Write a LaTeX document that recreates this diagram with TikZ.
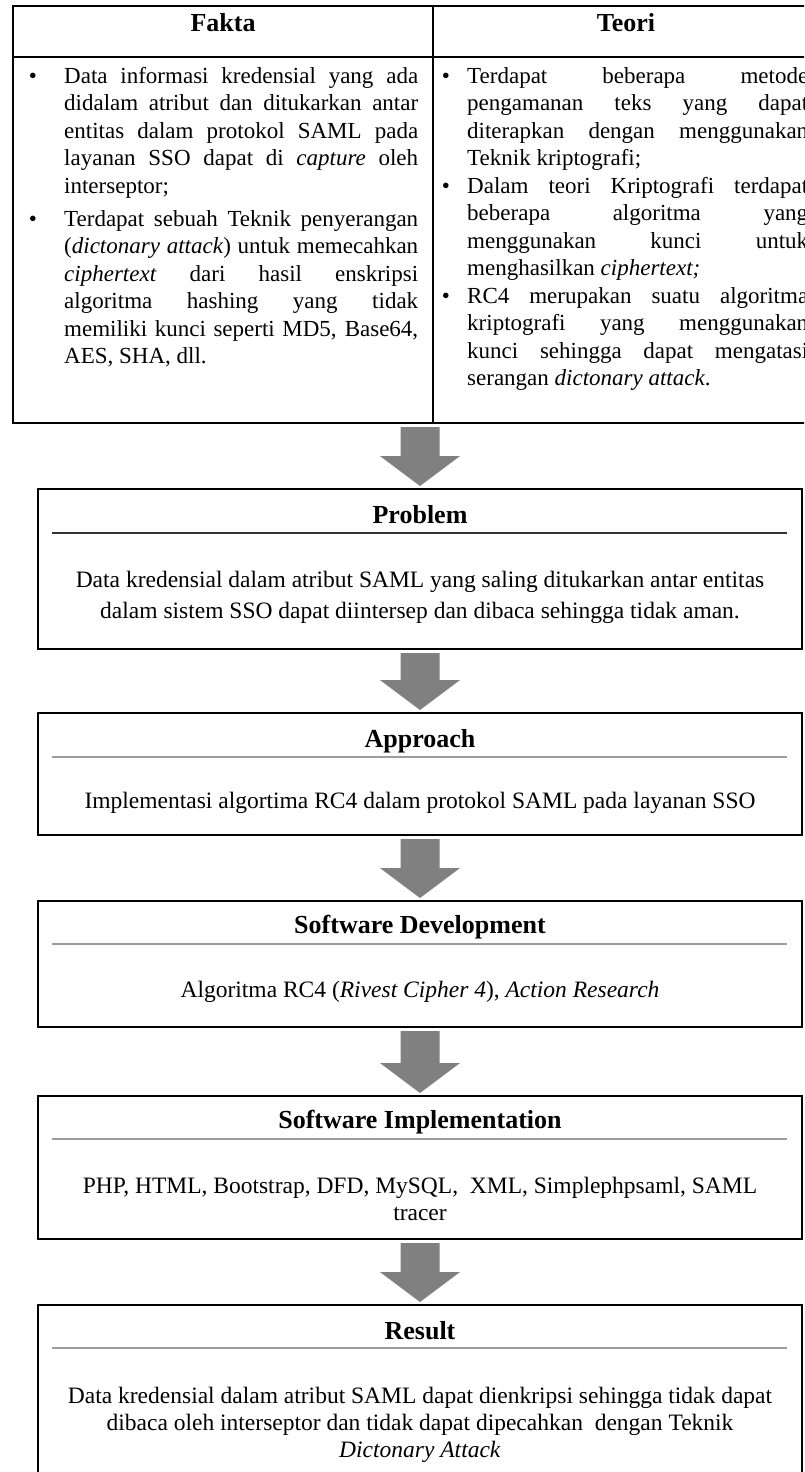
\documentclass[tikz,border=0pt]{standalone}
\usepackage{fontspec}
\setmainfont{Liberation Serif}
\usetikzlibrary{calc}
\definecolor{arrowgray}{HTML}{808080}
\definecolor{rulegray}{HTML}{9C9C9C}
\setlength{\parindent}{0pt}
\newcommand{\tabtext}{\fontsize{23}{27.5}\selectfont\tolerance=10000\hbadness=10000\hyphenpenalty=10000}
\newcommand{\boxtitle}{\fontsize{26}{30}\selectfont\bfseries}
\newcommand{\boxtext}{\fontsize{23.5}{31}\selectfont}
\newcommand{\boxtextb}{\fontsize{23.5}{27}\selectfont}
\newcommand{\blockarrow}[2]{%
  \path[fill=arrowgray] let \p1=(#1.south), \p2=(#2.north) in
    (\x2-19.5pt,\y1-4pt) -- (\x2+19.5pt,\y1-4pt) -- (\x2+19.5pt,\y2+33pt)
    -- (\x2+40pt,\y2+33pt) -- (\x2,\y2+3pt) -- (\x2-40pt,\y2+33pt)
    -- (\x2-19.5pt,\y2+33pt) -- cycle;}
\begin{document}
\begin{tikzpicture}[x=1pt,y=-1pt,
  frame/.style={draw=black, line width=2pt, inner sep=0pt, outer sep=0pt, anchor=north west},
  headtext/.style={font=\boxtitle, anchor=base, inner sep=0pt},
  celltext/.style={font=\tabtext, anchor=base west, inner sep=0pt, align=justify},
  bul/.style={font=\tabtext, anchor=base, inner sep=0pt},
  midtext/.style={font=\boxtext, anchor=base, inner sep=0pt, align=center},
  midtextb/.style={font=\boxtextb, anchor=base, inner sep=0pt, align=center},
  seprule/.style={line width=2pt, draw=rulegray},
]
\useasboundingbox (0,0) rectangle (804,1472);
\fill[white] (0,0) rectangle (804,1472);
\clip (0,0) rectangle (804,1472);

% ---------- table ----------
\node[frame, minimum width=806, minimum height=417] (tab) at (13,6) {};
\draw[line width=2pt] (13,57) -- (819,57);
\draw[line width=1.6pt] (433,6) -- (433,423);
\node[headtext] (hF) at (223,32) {Fakta};
\node[headtext] (hT) at (626,32) {Teori};

\node[bul] (b1) at (33,83) {•};
\node[celltext, text width=354] (f1) at (64,83) {Data informasi kredensial yang ada\linebreak
didalam atribut dan ditukarkan antar\linebreak
entitas dalam protokol SAML pada\linebreak
layanan SSO dapat di \textit{capture} oleh\linebreak
interseptor;};
\node[bul] (b2) at (33,226) {•};
\node[celltext, text width=354] (f2) at (64,226) {Terdapat sebuah Teknik penyerangan\linebreak
(\textit{dictonary attack}) untuk memecahkan\linebreak
\textit{ciphertext} dari hasil enskripsi\linebreak
algoritma hashing yang tidak\linebreak
memiliki kunci seperti MD5, Base64,\linebreak
AES, SHA, dll.};

\node[bul] (b3) at (446,83) {•};
\node[celltext, text width=341] (t1) at (467,83) {Terdapat beberapa metode\linebreak
pengamanan teks yang dapat\linebreak
diterapkan dengan menggunakan\linebreak
Teknik kriptografi;};
\node[bul] (b4) at (446,193) {•};
\node[celltext, text width=341] (t2) at (467,193) {Dalam teori Kriptografi terdapat\linebreak
beberapa algoritma yang\linebreak
menggunakan kunci untuk\linebreak
menghasilkan \textit{ciphertext;}};
\node[bul] (b5) at (446,303) {•};
\node[celltext, text width=341] (t3) at (467,303) {RC4 merupakan suatu algoritma\linebreak
kriptografi yang menggunakan\linebreak
kunci sehingga dapat mengatasi\linebreak
serangan \textit{dictonary attack}.};

% ---------- boxes ----------
\node[frame, minimum width=764, minimum height=160] (prob) at (38,489) {};
\node[frame, minimum width=764, minimum height=122] (appr) at (38,713) {};
\node[frame, minimum width=764, minimum height=126] (sdev) at (38,901) {};
\node[frame, minimum width=764, minimum height=143] (simp) at (38,1096) {};
\node[frame, minimum width=764, minimum height=200] (res) at (38,1305) {};

\node[headtext] (probT) at ($(prob.north)+(0,34)$) {Problem};
\draw[seprule, draw=black!80] ($(prob.north west)+(14,44)$) -- ($(prob.north east)+(-15,44)$);
\node[midtext] (probX) at ($(prob.north)+(0,129)$) {Data kredensial dalam atribut SAML yang saling ditukarkan antar entitas\\
dalam sistem SSO dapat diintersep dan dibaca sehingga tidak aman.};

\node[headtext] (apprT) at ($(appr.north)+(0,34)$) {Approach};
\draw[seprule] ($(appr.north west)+(14,44)$) -- ($(appr.north east)+(-15,44)$);
\node[midtext] (apprX) at ($(appr.north)+(0,95)$) {Implementasi algortima RC4 dalam protokol SAML pada layanan SSO};

\node[headtext] (sdevT) at ($(sdev.north)+(0,32)$) {Software Development};
\draw[seprule] ($(sdev.north west)+(14,43)$) -- ($(sdev.north east)+(-15,43)$);
\node[midtext] (sdevX) at ($(sdev.north)+(0,96)$) {Algoritma RC4 (\textit{Rivest Cipher 4}), \textit{Action Research}};

\node[headtext] (simpT) at ($(simp.north)+(0,32)$) {Software Implementation};
\draw[seprule] ($(simp.north west)+(14,43)$) -- ($(simp.north east)+(-15,43)$);
\node[midtextb] (simpX) at ($(simp.north)+(0,124)$) {PHP, HTML, Bootstrap, DFD, MySQL,\ \ XML, Simplephpsaml, SAML\\ tracer};

\node[headtext] (resT) at ($(res.north)+(0,34)$) {Result};
\draw[seprule] ($(res.north west)+(14,43)$) -- ($(res.north east)+(-15,43)$);
\node[midtextb] (resX) at ($(res.north)+(0,152)$) {Data kredensial dalam atribut SAML dapat dienkripsi sehingga tidak dapat\\
dibaca oleh interseptor dan tidak dapat dipecahkan\ \ dengan Teknik\\
\textit{Dictonary Attack}};

% ---------- block arrows ----------
\blockarrow{tab}{prob}
\blockarrow{prob}{appr}
\blockarrow{appr}{sdev}
\blockarrow{sdev}{simp}
\blockarrow{simp}{res}
\end{tikzpicture}
\end{document}
